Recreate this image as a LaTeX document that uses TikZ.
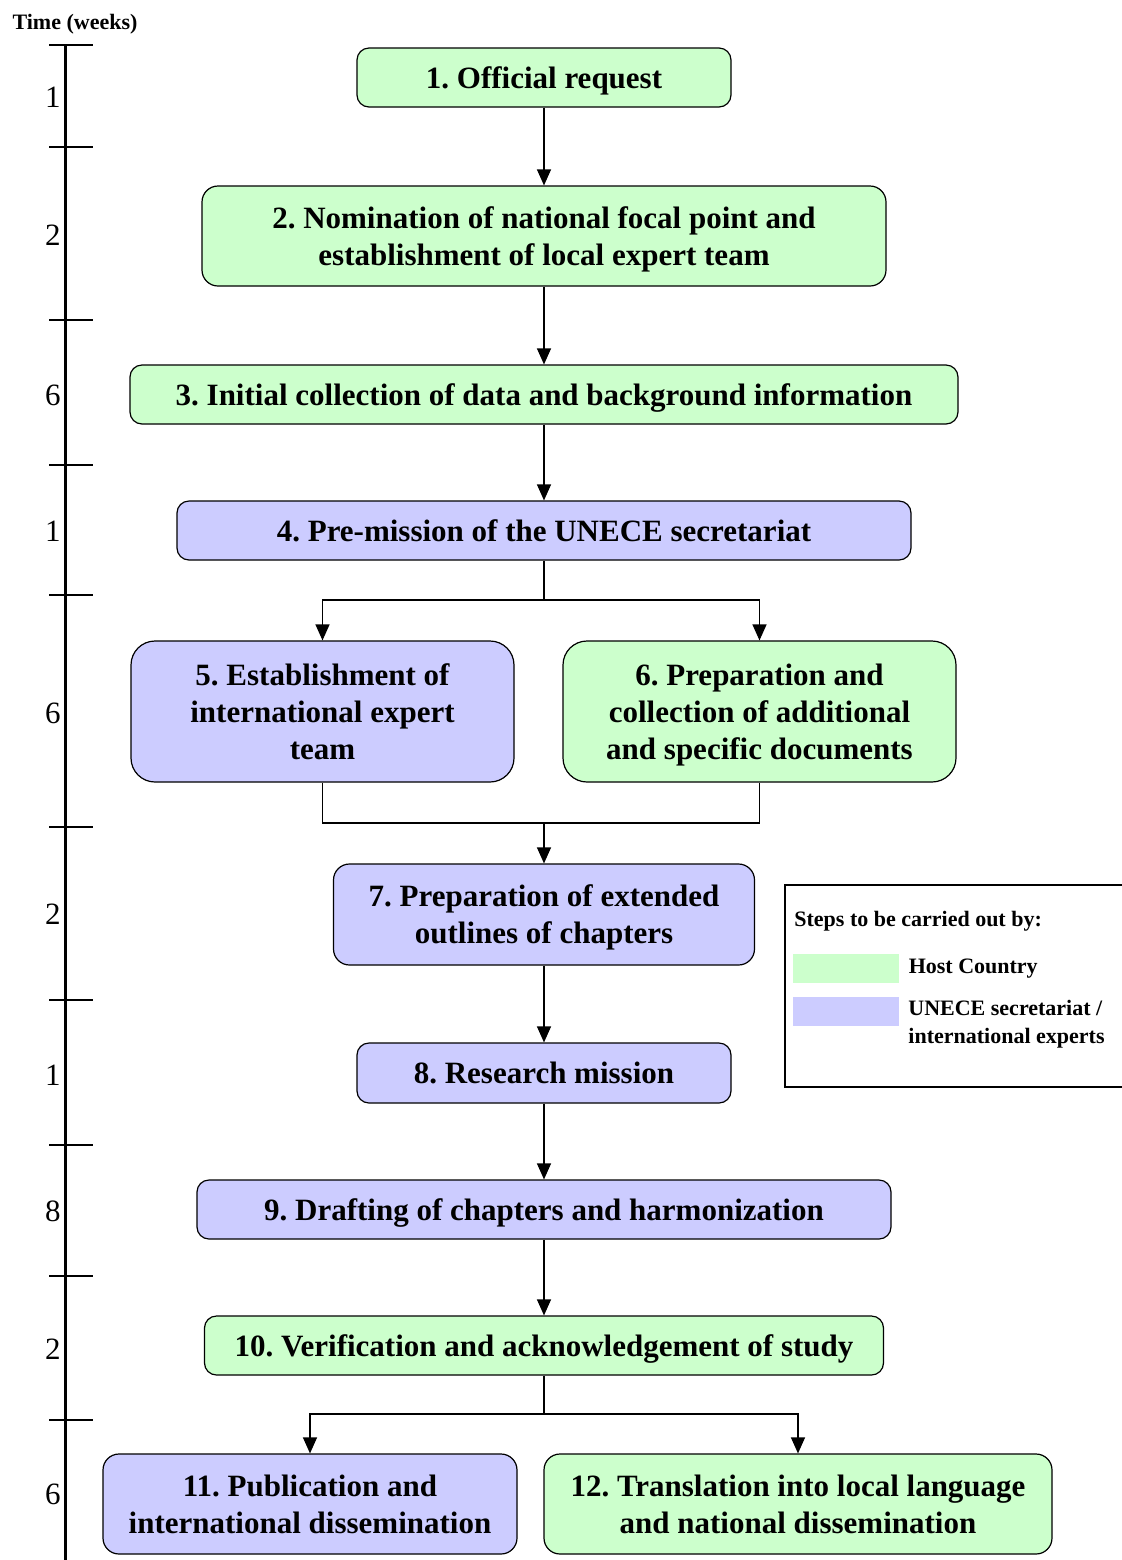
\documentclass[tikz,border=0pt]{standalone}
\usepackage{fontspec}
\setmainfont{Liberation Serif}
\frenchspacing
\usetikzlibrary{positioning,arrows.meta}
\definecolor{hostgreen}{HTML}{CCFFCC}
\definecolor{unecblue}{HTML}{CCCCFF}

\begin{document}
\begin{tikzpicture}[x=0.5pt, y=-0.5pt]

% Styles
\tikzset{
    stepbox/.style={rectangle, rounded corners=6pt, draw, line width=0.6pt, align=center, inner sep=0pt, text depth=0pt, font=\fontsize{15.5}{18.5}\selectfont\bfseries},
    host/.style={stepbox, fill=hostgreen},
    unece/.style={stepbox, fill=unecblue},
    arrow/.style={-{Triangle[length=8pt,width=7pt]}, line width=0.6pt},
    link/.style={-, line width=0.6pt},
    weeknum/.style={anchor=east, inner sep=0pt, font=\fontsize{15.5}{18}\selectfont},
    keytext/.style={anchor=west, inner sep=0pt, align=left, font=\fontsize{11}{14}\selectfont\bfseries}
}

\useasboundingbox (0,0) rectangle (1122,1560);

% Time axis
\node[font=\fontsize{11}{13}\selectfont\bfseries] (timetitle) at (75,24) {Time (weeks)};
\draw[line width=1.5pt] (65,45) -- (65,1565);
\foreach \t in {45,147,320,465,595,827,1000,1145,1276,1420} {
    \draw[line width=1pt] (49,\t) -- (93,\t);
}
\foreach \w/\y [count=\i] in {1/97,2/235,6/395,1/531,6/713,2/914,1/1075,8/1211,2/1349,6/1494} {
    \node[weeknum] (w\i) at (61,\y) {\w};
}

% Steps
\node[host, minimum width=187pt, minimum height=29.5pt] (s1) at (544,77.5) {1. Official request};
\node[host, minimum width=342pt, minimum height=50pt, rounded corners=8pt] (s2) at (544,236) {2. Nomination of national focal point and\\establishment of local expert team};
\node[host, minimum width=414pt, minimum height=29.5pt] (s3) at (544,394.5) {3. Initial collection of data and background information};
\node[unece, minimum width=367pt, minimum height=29.5pt] (s4) at (544,530.5) {4. Pre-mission of the UNECE secretariat};
\node[unece, minimum width=191.5pt, minimum height=70.5pt, rounded corners=12pt] (s5) at (322.5,711.5) {5. Establishment of\\international expert\\team};
\node[host, minimum width=196.5pt, minimum height=70.5pt, rounded corners=12pt] (s6) at (759.5,711.5) {6. Preparation and\\collection of additional\\and specific documents};
\node[unece, minimum width=210.5pt, minimum height=50.5pt, rounded corners=8pt] (s7) at (544,914.5) {7. Preparation of extended\\outlines of chapters};
\node[unece, minimum width=187pt, minimum height=30pt] (s8) at (544,1073) {8. Research mission};
\node[unece, minimum width=347pt, minimum height=29.5pt] (s9) at (544,1209.5) {9. Drafting of chapters and harmonization};
\node[host, minimum width=339.5pt, minimum height=29.5pt] (s10) at (544,1345.5) {10. Verification and acknowledgement of study};
\node[unece, minimum width=207pt, minimum height=50pt, rounded corners=8pt] (s11) at (310,1504) {11. Publication and\\international dissemination};
\node[host, minimum width=254pt, minimum height=50pt, rounded corners=8pt] (s12) at (798,1504) {12. Translation into local language\\and national dissemination};

% Branch points
\coordinate (split4) at (544,600);
\coordinate (merge7) at (544,823);
\coordinate (split10) at (544,1414);

% Arrows
\draw[arrow] (s1) -- (s2);
\draw[arrow] (s2) -- (s3);
\draw[arrow] (s3) -- (s4);
\draw[link] (s4) -- (split4);
\draw[arrow] (split4) -| (s5);
\draw[arrow] (split4) -| (s6);
\draw[link] (s5) |- (merge7);
\draw[link] (s6) |- (merge7);
\draw[arrow] (merge7) -- (s7);
\draw[arrow] (s7) -- (s8);
\draw[arrow] (s8) -- (s9);
\draw[arrow] (s9) -- (s10);
\draw[link] (s10) -- (split10);
\draw[arrow] (split10) -| (s11);
\draw[arrow] (split10) -| (s12);

% Legend
\node[draw, line width=0.6pt, minimum width=175pt, minimum height=101pt, inner sep=0pt] (legend) at (960,986) {};
\node[keytext] (keytitle) at (794,921) {Steps to be carried out by:};
\node[fill=hostgreen, minimum width=53pt, minimum height=14.5pt, inner sep=0pt] (keyhost) at (846,968.5) {};
\node[fill=unecblue, minimum width=53pt, minimum height=14.5pt, inner sep=0pt] (keyunece) at (846,1011.5) {};
\node[keytext, right=4.5pt of keyhost] (hosttext) {Host Country};
\node[keytext] (unecetext) at (908,1024) {UNECE secretariat /\\international experts};

\end{tikzpicture}
\end{document}
